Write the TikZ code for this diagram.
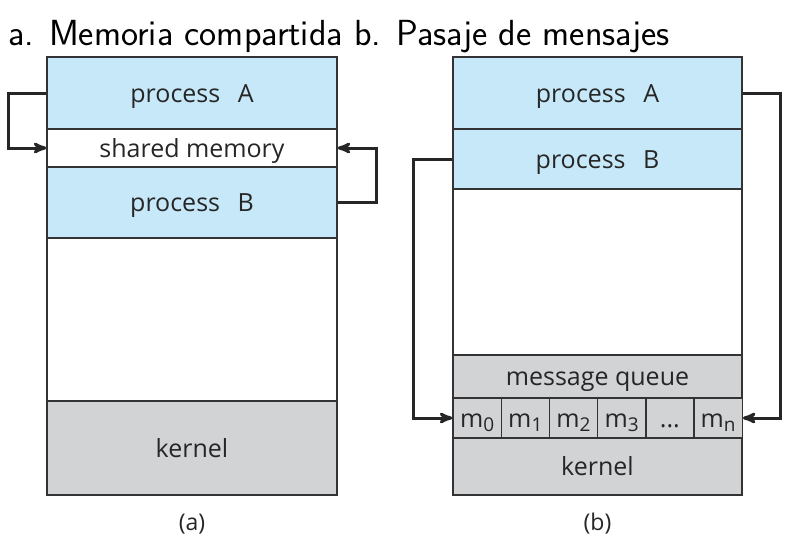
\documentclass[tikz,border=0pt]{standalone}
\usepackage{fontspec}
\usepackage{tikz}
\usetikzlibrary{arrows}
\newfontfamily\boxfont{Open Sans}
\definecolor{procblue}{HTML}{C7E8F8}
\definecolor{kernelgray}{HTML}{D1D3D4}
\definecolor{edgegray}{HTML}{333333}
\newcommand{\msg}[1]{m\raisebox{-0.35ex}{\fontsize{19}{19}\selectfont #1}}

\begin{document}
\begin{tikzpicture}[x=1pt,y=-1pt,>=stealth',
  mem box/.style={rectangle,draw=edgegray,line width=1.4pt,fill=white,inner sep=0pt,
    text height=18.5pt,text depth=0pt,
    text=black!85,font=\boxfont\fontsize{25}{27}\selectfont},
  proc box/.style={mem box,fill=procblue,minimum width=290,minimum height=72},
  kern box/.style={mem box,fill=kernelgray},
  msg box/.style={kern box,minimum width=48.2,minimum height=40},
  pass/.style={->,draw=black!85,line width=3pt}]

  \useasboundingbox (0,0) rectangle (803,546);

  \node[anchor=base west,inner sep=0pt,font=\sffamily\fontsize{36.3}{38}\selectfont] (title) at (8,45)
    {a. Memoria compartida b. Pasaje de mensajes};

  % (a) shared memory
  \node[proc box] (pA) at (192,93) {process\hspace{0.7em}A};
  \node[mem box,minimum width=290,minimum height=38] (shm) at (192,148) {shared memory};
  \node[proc box,minimum height=71] (pB) at (192,202.5) {process\hspace{0.7em}B};
  \node[mem box,minimum width=290,minimum height=163] (freeA) at (192,319.5) {};
  \node[kern box,minimum width=290,minimum height=94] (kA) at (192,448) {kernel};
  \node[font=\boxfont\fontsize{23}{25}\selectfont,text=black!85] (capA) at (192,524) {(a)};

  % (b) message passing
  \node[proc box,minimum width=289] (pA2) at (597.5,93) {process\hspace{0.7em}A};
  \node[proc box,minimum width=289,minimum height=60] (pB2) at (597.5,159) {process\hspace{0.7em}B};
  \node[mem box,minimum width=289,minimum height=166] (freeB) at (597.5,272) {};
  \node[kern box,minimum width=289,minimum height=43] (mq) at (597.5,376.5) {message queue};
  \node[msg box] (m0) at (477.1,418) {\msg{0}};
  \node[msg box] (m1) at (525.3,418) {\msg{1}};
  \node[msg box] (m2) at (573.5,418) {\msg{2}};
  \node[msg box] (m3) at (621.7,418) {\msg{3}};
  \node[msg box] (mdots) at (669.9,418) {...};
  \node[msg box] (mn) at (718.1,418) {\msg{n}};
  \node[kern box,minimum width=289,minimum height=57] (kB) at (597.5,466.5) {kernel};
  \node[font=\boxfont\fontsize{23}{25}\selectfont,text=black!85] (capB) at (597.5,524) {(b)};

  \draw[pass] (pA.west) -- ++(-38,0) |- (shm.west);
  \draw[pass] (pB.east) -- ++(39,0) |- (shm.east);
  \draw[pass] (pA2.east) -- ++(38,0) |- (mn.east);
  \draw[pass] (pB2.west) -- ++(-39,0) |- (m0.west);
\end{tikzpicture}
\end{document}
